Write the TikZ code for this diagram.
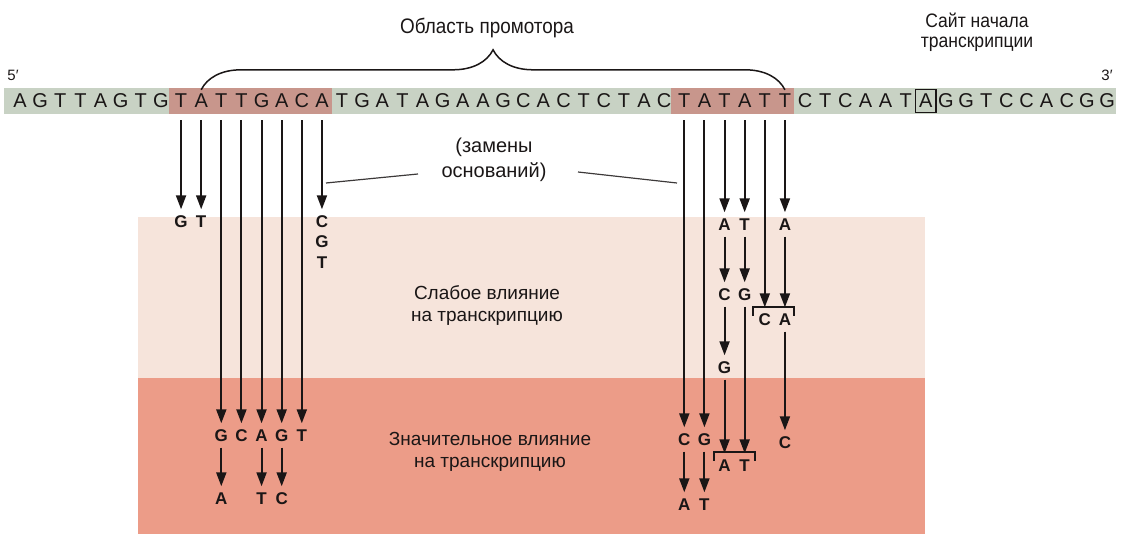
\documentclass[tikz,border=0pt]{standalone}
\usepackage{fontspec}
\setmainfont{Liberation Sans}
\newfontfamily\narrowf[FakeStretch=0.9]{Liberation Sans}
\usepackage{xcolor}
\usepackage{tikz}
\usetikzlibrary{arrows.meta,decorations.pathreplacing}
\definecolor{inkc}{HTML}{1A1616}
\definecolor{seqc}{HTML}{C8D2C4}
\definecolor{boxc}{HTML}{C8968C}
\definecolor{weakc}{HTML}{F6E4DB}
\definecolor{strongc}{HTML}{EC9C88}
\tikzset{
  ar/.style={-{Triangle[length=14pt,width=10pt]},line width=2pt,inkc,shorten <=4pt,shorten >=5pt},
  arb/.style={ar,shorten <=8pt},
  bs/.style={inner sep=0pt,minimum width=20pt,minimum height=22pt,font=\fontsize{20}{22}\selectfont,text=inkc},
  sb/.style={inner sep=1.5pt,text height=12pt,text depth=0pt,font=\fontsize{17}{18}\selectfont\bfseries,text=inkc},
  lbl/.style={align=center,text=inkc,font=\fontsize{19}{22}\selectfont},
  brk/.style={line width=1.5pt,inkc}
}
\begin{document}
\begin{tikzpicture}[x=1pt,y=-1pt]
\useasboundingbox (0,0) rectangle (1128,534);
\fill[weakc] (138,217) rectangle (925,378);
\fill[strongc] (138,378) rectangle (925,534);
\fill[seqc] (4,88) rectangle (1116,114);
\fill[boxc] (169,88) rectangle (332,114);
\fill[boxc] (671,88) rectangle (794,114);
\foreach \ch [count=\i] in {A,G,T,T,A,G,T,G,T,A,T,T,G,A,C,A,T,G,A,T,A,G,A,A,G,C,A,C,T,C,T,A,C,T,A,T,A,T,T,C,T,C,A,A,T,A,G,G,T,C,C,A,C,G,G}
  \node[bs] (b\i) at ({20+(\i-1)*20.13},101) {\ch};
\draw[brk,line width=1.3pt] (b46.north west) rectangle (b46.south east);
\node[font=\fontsize{15}{16}\selectfont,text=inkc] (p5) at (13,75) {5′};
\node[font=\fontsize{15}{16}\selectfont,text=inkc] (p3) at (1107,75) {3′};
\draw[brk,decorate,decoration={brace,amplitude=40pt}] (b10.north) -- (b39.north);
\node[lbl,font=\narrowf\fontsize{21}{22}\selectfont] (prom) at (487,28) {Область промотора};
\node[lbl,font=\narrowf\fontsize{19.5}{20}\selectfont] (site) at (977,32) {Сайт начала\\транскрипции};
\node[lbl,font=\fontsize{20}{25}\selectfont] (rep) at (494,160) {(замены\\оснований)};
\node[lbl] (weak) at (487,306) {Слабое влияние\\на транскрипцию};
\node[lbl] (strong) at (490,452) {Значительное влияние\\на транскрипцию};
\coordinate (rl) at (418,174);
\coordinate (cl) at (326,183);
\coordinate (rr) at (578,172);
\coordinate (cr) at (677,183);
\draw[inkc!85,line width=1.2pt] (rl) -- (cl);
\draw[inkc!85,line width=1.2pt] (rr) -- (cr);
\node[sb] (m9) at (b9 |- 0,222) {G};
\node[sb] (m10) at (b10 |- 0,222) {T};
\node[sb] (m16a) at (b16 |- 0,222) {C};
\node[sb] (m16b) at (b16 |- 0,242) {G};
\node[sb] (m16c) at (b16 |- 0,263) {T};
\foreach \i/\ch in {11/G,12/C,13/A,14/G,15/T}
  \node[sb] (n\i) at (b\i |- 0,436) {\ch};
\foreach \i/\ch in {11/A,13/T,14/C}
  \node[sb] (o\i) at (b\i |- 0,499) {\ch};
\node[sb] (n34) at (b34 |- 0,440) {C};
\node[sb] (n35) at (b35 |- 0,440) {G};
\node[sb] (o34) at (b34 |- 0,505) {A};
\node[sb] (o35) at (b35 |- 0,505) {T};
\node[sb] (m36) at (b36 |- 0,225) {A};
\node[sb] (m37) at (b37 |- 0,225) {T};
\node[sb] (m39) at (b39 |- 0,225) {A};
\node[sb] (p36) at (b36 |- 0,295) {C};
\node[sb] (p37) at (b37 |- 0,295) {G};
\node[sb] (q36) at (b36 |- 0,368) {G};
\node[sb] (k38) at (b38 |- 0,320) {C};
\node[sb] (k39) at (b39 |- 0,320) {A};
\node[sb] (n39) at (b39 |- 0,443) {C};
\node[sb] (r36) at (b36 |- 0,466) {A};
\node[sb] (r37) at (b37 |- 0,466) {T};
\draw[brk] (753,316) -- (753,307) -- (794,307) -- (794,316);
\draw[brk] (714,461) -- (714,452) -- (755,452) -- (755,461);
\foreach \a/\b in {b9/m9,b10/m10,b16/m16a,b11/n11,b12/n12,b13/n13,b14/n14,b15/n15,b34/n34,b35/n35,b36/m36,b37/m37,b38/k38,b39/m39}
  \draw[arb] (\a) -- (\b);
\foreach \a/\b in {n11/o11,n13/o13,n14/o14,n34/o34,n35/o35,m36/p36,p36/q36,q36/r36,m37/p37,p37/r37,m39/k39,k39/n39}
  \draw[ar] (\a) -- (\b);
\end{tikzpicture}
\end{document}
